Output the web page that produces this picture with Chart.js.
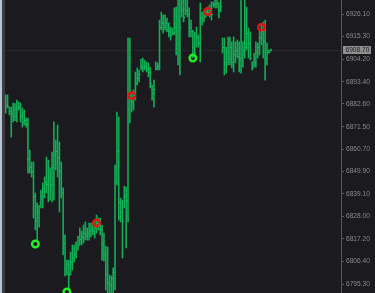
<!DOCTYPE html>
<html>
<head>
<meta charset="utf-8">
<script src="https://cdn.jsdelivr.net/npm/chart.js@4/dist/chart.umd.min.js"></script>
<style>
  body { margin: 0; background: #1b1b1f; }
  #wrap { position: absolute; left: 0; top: 0; width: 375px; height: 293px; overflow: hidden; }
  #edge1 { position: absolute; left: 0; top: 0; width: 2px; height: 293px; background: #b9c6d3; }
  #edge2 { position: absolute; left: 2px; top: 0; width: 3px; height: 293px; background: #3c3c41; }
  #box { position: absolute; left: 5px; top: 0; width: 370px; height: 293px; }
</style>
</head>
<body>
<div id="wrap">
  <div id="edge1"></div>
  <div id="edge2"></div>
  <div id="box"><canvas id="c" width="370" height="293"></canvas></div>
</div>
<script>
// price bars (oldest -> newest)
const highs = [
  6887.0, 6887.0, 6881.1, 6881.1, 6883.1, 6882.8, 6884.5, 6883.6, 6883.1, 6880.7,
  6879.7, 6875.8, 6875.8, 6860.3, 6854.5, 6854.5, 6839.4, 6834.6, 6833.6, 6840.9,
  6844.3, 6847.2, 6856.9, 6855.4, 6851.6, 6859.3, 6873.9, 6865.1, 6872.4, 6864.2,
  6854.5, 6841.9, 6819.1, 6806.9, 6806.9, 6810.8, 6814.2, 6814.2, 6815.7, 6818.6,
  6822.5, 6821.0, 6823.9, 6825.4, 6822.5, 6824.9, 6824.9, 6825.4, 6826.3, 6828.8,
  6827.3, 6827.3, 6823.9, 6820.0, 6813.7, 6813.2, 6799.7, 6799.2, 6803.1, 6853.0,
  6878.7, 6876.3, 6837.0, 6836.0, 6842.8, 6842.3, 6914.6, 6914.6, 6888.4, 6889.4,
  6898.1, 6900.1, 6899.1, 6904.4, 6904.9, 6903.9, 6903.0, 6902.5, 6900.5, 6891.8,
  6894.2, 6903.0, 6902.5, 6923.3, 6927.2, 6925.8, 6925.8, 6924.3, 6921.9, 6919.9,
  6919.5, 6929.2, 6929.6, 6934.0, 6934.0, 6934.0, 6934.0, 6934.0, 6934.0, 6929.2,
  6923.3, 6918.5, 6917.5, 6919.9, 6916.1, 6931.6, 6927.2, 6928.2, 6928.2, 6929.6,
  6930.6, 6932.1, 6932.1, 6934.0, 6934.0, 6931.6, 6934.0, 6914.6, 6914.6, 6910.2,
  6915.1, 6915.1, 6912.7, 6915.1, 6912.7, 6913.6, 6912.7, 6934.0, 6912.7, 6934.0,
  6929.6, 6919.5, 6917.5, 6903.0, 6907.3, 6912.7, 6912.2, 6918.5, 6920.9, 6922.4,
  6923.3, 6912.2, 6908.8, 6909.3
];
const lows = [
  6878.2, 6880.7, 6877.3, 6866.6, 6873.9, 6874.5, 6873.9, 6879.7, 6873.9, 6871.4,
  6872.4, 6871.4, 6849.1, 6849.1, 6847.2, 6827.3, 6821.5, 6816.6, 6822.9, 6832.2,
  6832.2, 6837.0, 6839.4, 6835.1, 6836.0, 6835.1, 6836.0, 6850.6, 6847.2, 6830.2,
  6837.0, 6809.4, 6799.2, 6799.7, 6792.4, 6799.7, 6802.1, 6806.0, 6807.9, 6811.8,
  6814.2, 6814.2, 6815.2, 6816.6, 6816.6, 6816.6, 6818.1, 6819.1, 6817.6, 6820.0,
  6821.5, 6819.1, 6806.9, 6806.5, 6792.4, 6790.0, 6790.0, 6790.0, 6790.0, 6792.4,
  6843.3, 6826.3, 6825.4, 6807.9, 6832.2, 6812.8, 6825.4, 6873.4, 6878.7, 6879.7,
  6884.5, 6891.8, 6893.3, 6899.1, 6898.1, 6899.1, 6898.1, 6895.7, 6890.4, 6884.5,
  6881.1, 6899.1, 6899.1, 6899.1, 6918.5, 6917.0, 6918.5, 6917.5, 6915.1, 6913.6,
  6916.1, 6916.1, 6906.4, 6901.5, 6896.7, 6924.8, 6922.4, 6925.8, 6924.8, 6915.1,
  6915.1, 6904.9, 6905.4, 6910.2, 6910.2, 6903.0, 6920.9, 6922.4, 6924.8, 6925.8,
  6924.8, 6923.3, 6929.6, 6929.2, 6929.2, 6924.3, 6927.2, 6907.3, 6896.7, 6897.6,
  6901.5, 6901.5, 6900.1, 6898.1, 6902.5, 6904.9, 6898.1, 6897.6, 6900.5, 6904.9,
  6908.8, 6904.9, 6903.9, 6899.1, 6900.5, 6900.5, 6904.9, 6906.4, 6911.2, 6904.9,
  6894.2, 6901.5, 6907.3, 6908.3
];
const closes = [
  6882, 6881.5, 6879, 6878, 6877, 6880, 6880, 6881, 6877, 6874,
  6875, 6873, 6856, 6852, 6850, 6838, 6826, 6830, 6835, 6838,
  6842, 6845, 6844, 6847, 6844, 6852, 6858, 6860, 6857, 6850,
  6840, 6815, 6803, 6805, 6800, 6806, 6808, 6810, 6812, 6814,
  6817, 6818, 6820, 6819, 6820, 6821, 6822, 6821, 6823, 6825,
  6824, 6822, 6815, 6810, 6800, 6796, 6795, 6798, 6801, 6845,
  6860, 6835, 6830, 6826, 6838, 6836, 6880, 6885, 6884, 6887,
  6893, 6895, 6897, 6901, 6900, 6901, 6900, 6898, 6893, 6888,
  6890, 6900, 6901, 6920, 6922, 6920, 6922, 6919, 6918, 6916,
  6917, 6920, 6912, 6905, 6920, 6928, 6925, 6928, 6926, 6920,
  6918, 6910, 6908, 6915, 6912, 6925, 6924, 6925, 6927, 6927,
  6928, 6926, 6931, 6931, 6932, 6928, 6930, 6910, 6903, 6908,
  6905, 6910, 6903, 6907, 6909, 6906, 6905, 6901, 6909, 6910,
  6917, 6912, 6905, 6900, 6903, 6908, 6910, 6915, 6918, 6913,
  6905, 6908, 6908, 6908.7
];

// signal markers: bar index + price
const buyIdx = [16, 33, 101];
const buyVals = [6814.7, 6791.4, 6904.9];
const sellIdx = [49, 68, 109, 138];
const sellVals = [6824.9, 6886.6, 6927.5, 6919.8];

const priceTicks = [6926.10, 6915.30, 6904.20, 6893.40, 6882.60, 6871.50, 6860.70,
  6849.90, 6839.10, 6828.00, 6817.20, 6806.40, 6795.30];
const lastPrice = 6908.70;

const fontFam = "'Liberation Sans', Arial, sans-serif";

const extras = {
  id: 'extras',
  beforeDatasetsDraw(chart) {
    const { ctx, chartArea, scales } = chart;
    const y = Math.round(scales.y.getPixelForValue(lastPrice)) + 0.5;
    ctx.save();
    ctx.strokeStyle = '#26262b';
    ctx.lineWidth = 1;
    ctx.beginPath();
    ctx.moveTo(chartArea.left, y);
    ctx.lineTo(chartArea.right, y);
    ctx.stroke();
    ctx.restore();
  },
  afterDatasetsDraw(chart) {
    const { ctx, scales, chartArea } = chart;
    ctx.save();
    ctx.beginPath();
    ctx.rect(chartArea.left, chartArea.top, chartArea.width, chartArea.height);
    ctx.clip();
    ctx.fillStyle = '#2cc774';
    closes.forEach((c, i) => {
      const x = scales.x.getPixelForValue(i);
      const y = scales.y.getPixelForValue(c);
      ctx.fillRect(x + 0.5, Math.round(y), 0.9, 1);
    });
    ctx.restore();
  },
  afterDraw(chart) {
    const { ctx, scales, chartArea } = chart;
    const y = scales.y.getPixelForValue(lastPrice);
    ctx.save();
    ctx.fillStyle = '#8f8f8f';
    ctx.fillRect(chartArea.right + 2, Math.round(y) - 4, 28, 8);
    ctx.fillStyle = '#1a1a1a';
    ctx.font = '6.6px ' + fontFam;
    ctx.textBaseline = 'middle';
    ctx.fillText(lastPrice.toFixed(2), chartArea.right + 4.5, Math.round(y) + 0.5);
    ctx.restore();
  }
};

new Chart(document.getElementById('c'), {
  type: 'bar',
  data: {
    datasets: [
      {
        type: 'scatter',
        data: buyIdx.map((x, i) => ({ x: x, y: buyVals[i] })),
        pointRadius: 3.3,
        pointBorderWidth: 2.4,
        pointBorderColor: '#22f022',
        pointBackgroundColor: 'rgba(0,0,0,0)',
        order: 0
      },
      {
        type: 'scatter',
        data: sellIdx.map((x, i) => ({ x: x, y: sellVals[i] })),
        pointRadius: 3.3,
        pointBorderWidth: 2.4,
        pointBorderColor: '#e81010',
        pointBackgroundColor: 'rgba(0,0,0,0)',
        order: 0
      },
      {
        type: 'bar',
        data: highs.map((h, i) => ({ x: i, y: [lows[i], h] })),
        backgroundColor: '#12ad57',
        borderWidth: 0,
        barThickness: 0.95,
        order: 1
      }
    ]
  },
  options: {
    responsive: false,
    animation: false,
    devicePixelRatio: 1,
    layout: { padding: 0, autoPadding: false },
    plugins: { legend: { display: false }, tooltip: { enabled: false } },
    scales: {
      x: {
        type: 'linear',
        display: false,
        offset: false,
        min: -0.38,
        max: 180.94
      },
      y: {
        position: 'right',
        min: 6790.94,
        max: 6933.03,
        afterBuildTicks: (scale) => { scale.ticks = priceTicks.map(v => ({ value: v })); },
        afterFit: (scale) => {
          scale.width = 34;
          scale.paddingTop = 0;
          scale.paddingBottom = 0;
        },
        border: { display: true, color: '#55585e', width: 1 },
        grid: { drawOnChartArea: false, drawTicks: true, tickLength: 3, color: '#55585e' },
        ticks: {
          color: '#8a8a8a',
          padding: 2,
          font: { family: fontFam, size: 6.6 },
          callback: (v) => Number(v).toFixed(2)
        }
      }
    }
  },
  plugins: [extras]
});
</script>
</body>
</html>
